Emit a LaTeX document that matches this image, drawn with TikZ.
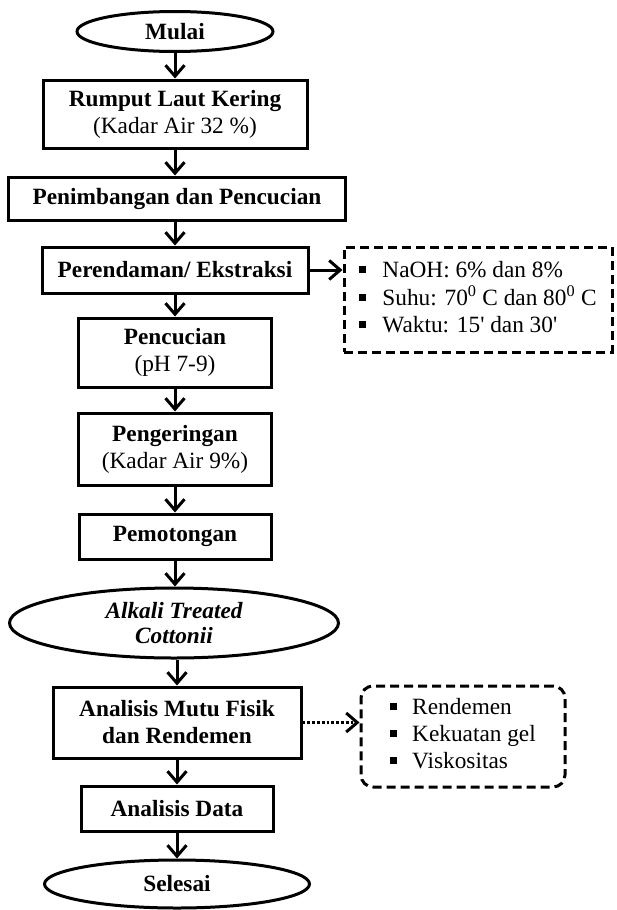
\documentclass[tikz,border=0pt]{standalone}
\usepackage{fontspec}
\setmainfont{Liberation Serif}
\usetikzlibrary{shapes.geometric,arrows.meta}
\newcommand{\sqbul}{\rule[0.2em]{7pt}{7pt}}
\begin{document}
\begin{tikzpicture}[x=1pt,y=-1pt,
  font=\fontsize{23.3}{27}\selectfont,
  box/.style={draw, line width=3pt, inner sep=0pt, align=center, font=\fontsize{23.3}{27}\selectfont\bfseries},
  oval/.style={box, ellipse},
  arr/.style={line width=3pt, -{Straight Barb[length=11pt,width=19pt]}},
  dotarr/.style={arr, dash pattern=on 2.8pt off 2pt},
  dbox/.style={draw, line width=3pt, dash pattern=on 9pt off 5pt, inner sep=0pt, align=left, font=\fontsize{23.3}{27}\selectfont},
]
\useasboundingbox (0,0) rectangle (616,910);

\node[oval, minimum width=196pt, minimum height=40pt] (mulai) at (175,31.5) {Mulai};
\node[box, minimum width=264pt, minimum height=68pt] (rumput) at (175,114) {Rumput Laut Kering\\\mdseries (Kadar Air 32 \%)};
\node[box, minimum width=337pt, minimum height=43pt] (penimb) at (177,198.5) {Penimbangan dan Pencucian};
\node[box, minimum width=266pt, minimum height=46pt] (perend) at (175,270) {Perendaman/ Ekstraksi};
\node[box, minimum width=193pt, minimum height=69pt] (pencuc) at (175,352.5) {Pencucian\\\mdseries (pH 7-9)};
\node[box, minimum width=193pt, minimum height=72pt] (penger) at (175,449) {Pengeringan\\\mdseries (Kadar Air 9\%)};
\node[box, minimum width=192pt, minimum height=45pt] (pemot) at (175,536.5) {Pemotongan};
\node[oval, minimum width=329pt, minimum height=70pt, font=\fontsize{23.3}{25}\selectfont\bfseries\itshape] (alkali) at (174,623) {Alkali Treated\\Cottonii};
\node[box, minimum width=248pt, minimum height=71pt] (anmutu) at (177,722.5) {Analisis Mutu Fisik\\dan Rendemen};
\node[box, minimum width=192pt, minimum height=45pt] (andata) at (177,808.5) {Analisis Data};
\node[oval, minimum width=265pt, minimum height=48pt] (selesai) at (177,884) {Selesai};

\node[dbox, minimum width=268pt, minimum height=105pt] (naoh) at (478,299.5) {\begin{tabular}{@{}l@{\hspace{16pt}}l@{}}
\sqbul & NaOH: 6\% dan 8\%\\
\sqbul & Suhu: 70\textsuperscript{0} C dan 80\textsuperscript{0} C\\
\sqbul & Waktu: 15\textquotesingle{} dan 30\textquotesingle
\end{tabular}};
\node[dbox, rounded corners=12pt, minimum width=204pt, minimum height=101pt] (rend) at (463,736.5) {\begin{tabular}{@{}l@{\hspace{15pt}}l@{}}
\sqbul & Rendemen\\
\sqbul & Kekuatan gel\\
\sqbul & Viskositas
\end{tabular}};

\draw[arr] (mulai) -- (rumput);
\draw[arr] (rumput) -- (penimb.north -| rumput);
\draw[arr] (penimb.south -| perend) -- (perend);
\draw[arr] (perend) -- (pencuc);
\draw[arr] (pencuc) -- (penger);
\draw[arr] (penger) -- (pemot);
\draw[arr] (pemot) -- (alkali.north -| pemot);
\draw[arr] (alkali.south -| anmutu) -- (anmutu);
\draw[arr] (anmutu) -- (andata);
\draw[arr] (andata) -- (selesai);
\draw[arr] (perend.east) -- (perend.east -| naoh.west);
\draw[dotarr] (anmutu.east) -- (anmutu.east -| rend.west);
\end{tikzpicture}
\end{document}
